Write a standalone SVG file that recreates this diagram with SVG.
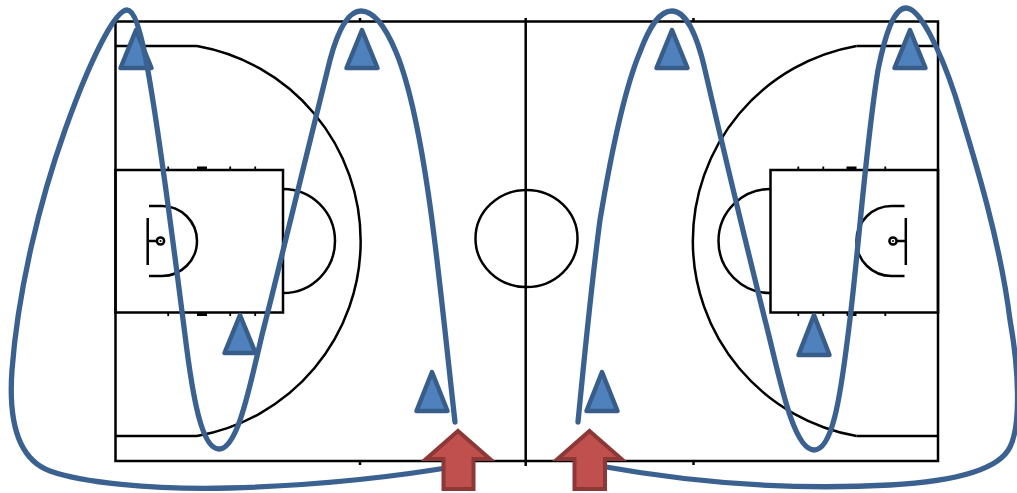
<svg xmlns="http://www.w3.org/2000/svg" width="1017" height="493" viewBox="0 0 1017 493">
<defs>
<style>
.ln{fill:none;stroke:#000;stroke-width:2.5}
.tk{fill:#000;stroke:none}
.pl{fill:#4F81BD;stroke:#385D8A;stroke-width:4.5;stroke-linejoin:round}
.rt{fill:none;stroke:#3A6190;stroke-width:5.3;stroke-linecap:round;stroke-linejoin:round}
.ar{fill:#C0504D;stroke:#8C3836;stroke-width:4;stroke-linejoin:miter}
</style>
<g id="half">
<line class="ln" x1="115.5" y1="46" x2="197" y2="46"/>
<line class="ln" x1="115.5" y1="436" x2="197" y2="436"/>
<path class="ln" d="M197,46 A198,198 0 0 1 197,436"/>
<rect class="ln" x="115.5" y="170" width="167.5" height="142.5"/>
<path class="ln" d="M283,189 A52,52 0 0 1 283,293"/>
<path class="ln" d="M149,206 L162,206 A35,35 0 0 1 162,276 L149,276"/>
<line class="ln" x1="147.7" y1="218" x2="147.7" y2="265"/>
<line class="ln" x1="147.7" y1="241" x2="156.5" y2="241"/>
<circle class="ln" cx="160.5" cy="241" r="3.6" stroke-width="1.8"/>
<circle class="tk" cx="160.5" cy="241" r="1"/>
<rect class="tk" x="167.3" y="166.5" width="1.8" height="3.5"/>
<rect class="tk" x="197" y="166.5" width="10" height="3.5"/>
<rect class="tk" x="229.3" y="166.5" width="1.8" height="3.5"/>
<rect class="tk" x="254.3" y="166.5" width="1.8" height="3.5"/>
<rect class="tk" x="167.3" y="312.5" width="1.8" height="3.5"/>
<rect class="tk" x="197" y="312.5" width="10" height="3.5"/>
<rect class="tk" x="229.3" y="312.5" width="1.8" height="3.5"/>
<rect class="tk" x="254.3" y="312.5" width="1.8" height="3.5"/>
</g>
</defs>
<rect width="1017" height="493" fill="#fff"/>
<g id="court">
<rect class="ln" x="115.5" y="21.5" width="822.5" height="439.5"/>
<line class="ln" x1="525.7" y1="18" x2="525.7" y2="466"/>
<ellipse class="ln" cx="526.5" cy="238.5" rx="51" ry="48.5"/>
<line class="ln" x1="360" y1="18" x2="360" y2="22"/>
<line class="ln" x1="693.5" y1="18" x2="693.5" y2="22"/>
<line class="ln" x1="360" y1="461" x2="360" y2="465"/>
<line class="ln" x1="693.5" y1="461" x2="693.5" y2="465"/>
<use href="#half"/>
<use href="#half" transform="translate(1053.5,0) scale(-1,1)"/>
</g>
<g id="players">
<path class="pl" d="M136,30 L151.5,68 L120.5,68 Z"/>
<path class="pl" d="M362,30 L377.5,68 L346.5,68 Z"/>
<path class="pl" d="M240,315 L255.5,353 L224.5,353 Z"/>
<path class="pl" d="M432,372 L447.5,411 L416.5,411 Z"/>
<path class="pl" d="M602,372 L617.5,411 L586.5,411 Z"/>
<path class="pl" d="M672,30 L687.5,68 L656.5,68 Z"/>
<path class="pl" d="M910,30 L925.5,68 L894.5,68 Z"/>
<path class="pl" d="M814,315 L829.5,355 L798.5,355 Z"/>
</g>
<g id="routes">
<path class="rt" d="M455,422 C448,360 440,280 432,220 C424,160 412,90 396,52 C386,28 374,11 361,11 C348,11 338,30 330,60 C318,105 290,225 262,335 C250,385 238,449 219,449 C202,449 193,400 185,335 C176,265 158,120 145,55 C140,30 134,10 127,10 C115,10 90,60 65,130 C40,200 18,290 12,370 C8,425 20,460 50,471 C80,482 150,490 230,488 C330,485 400,476 458,466"/>
<path class="rt" d="M578,422 C584,360 592,280 600,220 C610,160 624,90 640,52 C650,25 660,11 672,11 C686,11 697,35 705,70 C720,135 745,240 770,340 C782,390 795,450 814,450 C832,450 840,400 848,335 C858,260 865,150 878,70 C886,30 895,8 906,8 C920,8 940,50 955,95 C975,160 1000,240 1010,320 C1019,370 1021,425 1010,447 C1000,468 960,481 890,485 C800,490 700,484 600,466"/>
</g>
<g id="arrows">
<path class="ar" d="M458,431 L490,459 L473.5,459 L473.5,489 L443.5,489 L443.5,459 L426,459 Z"/>
<path class="ar" d="M589.5,431 L621.5,459 L605,459 L605,489 L574.5,489 L574.5,459 L557.5,459 Z"/>
</g>
</svg>
